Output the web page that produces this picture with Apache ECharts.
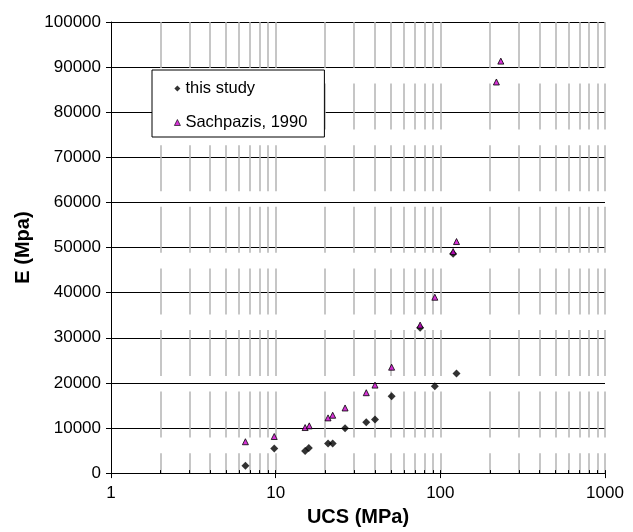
<!DOCTYPE html>
<html>
<head>
<meta charset="utf-8">
<script src="https://cdn.jsdelivr.net/npm/echarts@6/dist/echarts.min.js"></script>
<style>
  html, body { margin: 0; padding: 0; background: #fff; }
  #chart { width: 633px; height: 532px; }
</style>
</head>
<body>
<div id="chart"></div>
<script>
// UCS (MPa) vs E (MPa)
var studyUcs = [6.55, 9.8, 15.1, 15.9, 20.8, 22.2, 26.4, 35.5, 40.1, 50.6, 75.4, 92.6, 119.6, 125.4];
var studyE = [1650, 5470, 4900, 5560, 6570, 6570, 9970, 11290, 11870, 17020, 32240, 19230, 48620, 22100];
var sachUcs = [6.55, 9.8, 15.1, 16.0, 20.8, 22.2, 26.4, 35.5, 40.1, 50.6, 75.4, 92.6, 119.6, 125.4, 219, 233];
var sachE = [6950, 8110, 10100, 10470, 12240, 12830, 14440, 17820, 19510, 23480, 32810, 38990, 49100, 51330, 86700, 91330];
// minor grid positions on the log axis
var minorTicks = [2, 3, 4, 5, 6, 7, 8, 9, 10, 20, 30, 40, 50, 60, 70, 80, 90, 100,
  200, 300, 400, 500, 600, 700, 800, 900, 1000];

function pairs(xs, ys) {
  return xs.map(function (x, i) { return [x, ys[i]]; });
}

var font = 'Liberation Sans, Arial, sans-serif';

var option = {
  animation: false,
  backgroundColor: '#fff',
  grid: { left: 111, right: 28, top: 22, bottom: 56 },
  legend: {
    orient: 'vertical',
    left: 152,
    top: 70,
    data: [
      { name: 'this study', icon: 'diamond', itemStyle: { color: '#000', borderWidth: 0 } },
      { name: 'Sachpazis, 1990', icon: 'triangle',
        itemStyle: { color: '#cc00cc', borderColor: '#000', borderWidth: 0.8 } }
    ],
    backgroundColor: '#fff',
    borderColor: '#000',
    borderWidth: 1,
    borderRadius: 0,
    padding: [10, 17, 6, 22],
    itemWidth: 6,
    itemHeight: 6,
    itemGap: 17,
    textStyle: { fontFamily: font, fontSize: 16.5, color: '#000' }
  },
  xAxis: [
    {
      type: 'log',
      logBase: 10,
      min: 1,
      max: 1000,
      name: 'UCS (MPa)',
      nameLocation: 'middle',
      nameGap: 29,
      nameTextStyle: { fontFamily: font, fontSize: 20, fontWeight: 'bold', color: '#000' },
      axisLine: { lineStyle: { color: '#000', width: 1 } },
      axisTick: { show: true, inside: false, length: 5, lineStyle: { color: '#000' } },
      axisLabel: {
        fontFamily: font, fontSize: 17, color: '#000', margin: 12,
        formatter: function (v) { return String(v); }
      },
      splitLine: { show: false }
    },
    {
      type: 'log',
      logBase: 10,
      min: 1,
      max: 1000,
      position: 'bottom',
      axisLine: { show: false },
      axisTick: {
        show: true, inside: true, length: 3,
        customValues: minorTicks,
        lineStyle: { color: '#000' }
      },
      axisLabel: { show: false },
      splitLine: {
        show: true,
        lineStyle: { color: '#b4b4b4', width: 1.5, type: [46, 15.6] }
      }
    }
  ],
  yAxis: {
    type: 'value',
    min: 0,
    max: 100000,
    interval: 10000,
    name: 'E (Mpa)',
    nameLocation: 'middle',
    nameGap: 76,
    nameTextStyle: { fontFamily: font, fontSize: 20, fontWeight: 'bold', color: '#000' },
    axisLine: { show: true, lineStyle: { color: '#000', width: 1 } },
    axisTick: { show: true, inside: false, length: 5, lineStyle: { color: '#000' } },
    axisLabel: {
      fontFamily: font, fontSize: 17, color: '#000', margin: 10,
      formatter: function (v) { return String(v); }
    },
    splitLine: { show: true, lineStyle: { color: '#000', width: 1 } }
  },
  series: [
    {
      name: 'this study',
      type: 'scatter',
      xAxisIndex: 0,
      symbol: 'diamond',
      symbolSize: 8,
      itemStyle: { color: '#000' },
      data: pairs(studyUcs, studyE)
    },
    {
      name: 'Sachpazis, 1990',
      type: 'scatter',
      xAxisIndex: 0,
      symbol: 'triangle',
      symbolSize: 6,
      itemStyle: { color: '#cc00cc', borderColor: '#000', borderWidth: 1 },
      data: pairs(sachUcs, sachE)
    }
  ]
};

var chart = echarts.init(document.getElementById('chart'), null, { renderer: 'canvas' });
chart.setOption(option);
</script>
</body>
</html>
